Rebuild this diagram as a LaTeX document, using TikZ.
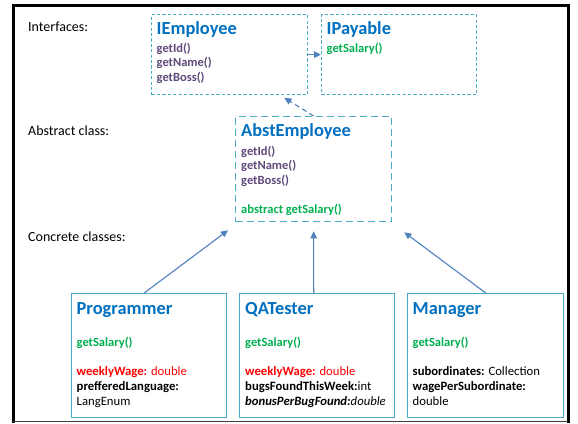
\documentclass[tikz,border=0pt]{standalone}
\usepackage{fontspec}
\setmainfont{Carlito}
\usetikzlibrary{arrows.meta,calc}
\definecolor{boxcyan}{HTML}{4BACC6}
\definecolor{arrowblue}{HTML}{4F81BD}
\definecolor{titleblue}{HTML}{0070C0}
\definecolor{methpurple}{HTML}{604A7B}
\definecolor{methgreen}{HTML}{00B050}
\definecolor{attrred}{HTML}{FF0000}
\begin{document}
\begin{tikzpicture}[x=1pt,y=-1pt,
  ifacebox/.style={draw=boxcyan, line width=1.3pt, dash pattern=on 3.2pt off 2.2pt, anchor=north west, inner sep=0, minimum width=156pt, minimum height=80pt},
  abstbox/.style={draw=boxcyan, line width=1.3pt, dash pattern=on 7pt off 4pt, anchor=north west, inner sep=0, minimum width=156pt, minimum height=105pt},
  classbox/.style={draw=boxcyan, line width=1.4pt, fill=white, anchor=north west, inner sep=0, minimum width=155pt, minimum height=124pt},
  title/.style={anchor=base west, inner sep=0, font=\fontsize{18.4}{22}\selectfont\bfseries, text=titleblue},
  meth/.style={anchor=base west, inner sep=0, font=\fontsize{12.5}{15}\selectfont\bfseries, text=methpurple},
  gmeth/.style={meth, text=methgreen},
  attr/.style={anchor=base west, inner sep=0, font=\fontsize{12.7}{15}\selectfont},
  lab/.style={anchor=base west, inner sep=0, font=\fontsize{14}{17}\selectfont},
  arr/.style={draw=arrowblue, line width=1.1pt, -{Triangle[length=7pt,width=6.5pt]}}
]
\useasboundingbox (0,0) rectangle (578,423);
\fill[white] (0,0) rectangle (578,423);
% frame
\draw[line width=3pt] (13,423) -- (13,5) -- (568,5) -- (568,423);
\draw[line width=0.8pt, black!75] (13,421.5) -- (568,421.5);

% labels
\node[lab] (l1) at (28,31) {Interfaces:};
\node[lab] (l2) at (28,135) {Abstract class:};
\node[lab] (l3) at (28,241) {Concrete classes:};

% interfaces
\node[ifacebox] (iemp) at (151,14) {};
\node[title] (iempT) at (156.5,34.5) {IEmployee};
\node[meth] (iemp1) at (156.5,52) {getId()};
\node[meth] (iemp2) at (156.5,66.7) {getName()};
\node[meth] (iemp3) at (156.5,81.4) {getBoss()};

\node[ifacebox, minimum width=155pt] (ipay) at (321,14) {};
\node[title] (ipayT) at (326.5,34.5) {IPayable};
\node[gmeth] (ipay1) at (326.5,52) {getSalary()};

% abstract
\node[abstbox] (abst) at (235,116) {};
\node[title] (abstT) at (241,136.7) {AbstEmployee};
\node[meth] (abst1) at (241,155) {getId()};
\node[meth] (abst2) at (241,169.5) {getName()};
\node[meth] (abst3) at (241,184) {getBoss()};
\node[gmeth] (abst4) at (241,213.5) {abstract getSalary()};

% concrete
\node[classbox] (prog) at (71,293) {};
\node[title] (progT) at (76.5,314.3) {Programmer};
\node[gmeth] (prog1) at (76.5,346) {getSalary()};
\node[attr, text=attrred] (prog2) at (76.5,375) {\textbf{weeklyWage:} double};
\node[attr] (prog3) at (76.5,390) {\textbf{prefferedLanguage:}};
\node[attr] (prog4) at (76.5,405) {LangEnum};

\node[classbox] (qat) at (239,293) {};
\node[title] (qatT) at (245,314.3) {QATester};
\node[gmeth] (qat1) at (245,346) {getSalary()};
\node[attr, text=attrred] (qat2) at (245,375) {\textbf{weeklyWage:} double};
\node[attr] (qat3) at (245,390) {\textbf{bugsFoundThisWeek:}int};
\node[attr] (qat4) at (245,405) {\textit{\textbf{bonusPerBugFound:}double}};

\node[classbox, minimum width=156pt] (mgr) at (407,293) {};
\node[title] (mgrT) at (412.5,314.3) {Manager};
\node[gmeth] (mgr1) at (412.5,346) {getSalary()};
\node[attr] (mgr2) at (412.5,375) {\textbf{subordinates:} Collection};
\node[attr] (mgr3) at (412.5,390) {\textbf{wagePerSubordinate:}};
\node[attr] (mgr4) at (412.5,405) {double};

% connectors
\draw[arr] (iemp.east) -- (ipay.west);
\draw[arr, dash pattern=on 5pt off 3.5pt] (abst.north) -- ($(iemp.south east)+(-24,2.5)$);
\draw[arr] ($(prog.north)+(-5,0)$) -- ($(abst.south west)+(-7,8)$);
\draw[arr] ($(qat.north)+(-3.5,0)$) -- ($(abst.south)+(0,9)$);
\draw[arr] (mgr.north) -- ($(abst.south east)+(12,10)$);
\end{tikzpicture}
\end{document}
